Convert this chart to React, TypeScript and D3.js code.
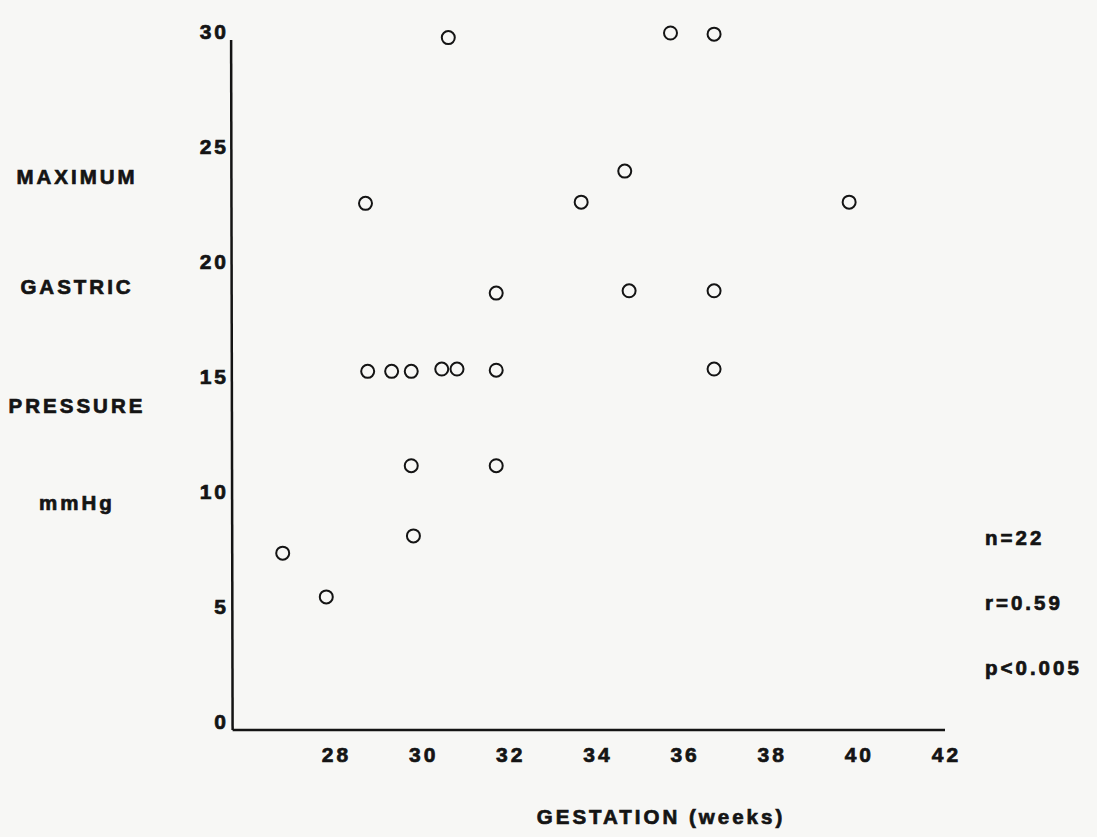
import React from "react";
import * as d3 from "d3";

// values
const gestation = [
  26.8, 27.8, 28.7, 28.75, 29.3, 29.75, 29.75, 29.8, 30.45, 30.8, 30.6,
  31.7, 31.7, 31.7, 33.65, 34.65, 34.75, 35.7, 36.7, 36.7, 36.7, 39.8,
];
const pressure = [
  7.4, 5.5, 22.6, 15.3, 15.3, 15.3, 11.2, 8.15, 15.4, 15.4, 29.8,
  18.7, 15.35, 11.2, 22.65, 24.0, 18.8, 30.0, 29.95, 18.8, 15.4, 22.65,
];
const xTicks = [28, 30, 32, 34, 36, 38, 40, 42];
const yTicks = [0, 5, 10, 15, 20, 25, 30];
const yTitle = ["MAXIMUM", "GASTRIC", "PRESSURE", "mmHg"];
const stats = ["n=22", "r=0.59", "p<0.005"];

const W = 1097;
const H = 837;
const font = "'Liberation Sans', Arial, Helvetica, sans-serif";
const ink = "#141414";

export default function App() {
  // x: weeks -> px, y: mmHg -> px
  const xScale = d3.scaleLinear().domain([28, 42]).range([335, 945]);
  const yScale = d3.scaleLinear().domain([0, 30]).range([723.5, 33]);

  const x0 = xScale(25.65);
  const y0 = yScale(-0.28);
  const yTop = yScale(29.7);

  const points = gestation.map((g, i) => ({ x: xScale(g), y: yScale(pressure[i]) }));

  // heavy type, like the original print
  const textStyle = {
    fontFamily: font,
    fontWeight: "bold",
    fill: ink,
    stroke: ink,
    strokeWidth: 0.7,
  } as const;

  return (
    <svg
      width={W}
      height={H}
      style={{ position: "absolute", left: 0, top: 0, display: "block" }}
    >
      <rect width={W} height={H} fill="#f7f7f5" />

      {/* axes */}
      <line x1={x0} y1={y0} x2={xScale(42)} y2={y0} stroke={ink} strokeWidth={2.5} />
      <line x1={x0} y1={y0} x2={x0 - 1.5} y2={yTop} stroke={ink} strokeWidth={2.5} />

      <g style={textStyle} fontSize={21} letterSpacing={3}>
        {xTicks.map((t) => (
          <text key={t} x={xScale(t) + 1.5} y={756} textAnchor="middle" dominantBaseline="middle">
            {t}
          </text>
        ))}
        {yTicks.map((t) => (
          <text key={t} x={229} y={yScale(t)} textAnchor="end" dominantBaseline="middle">
            {t}
          </text>
        ))}
      </g>

      {/* left title, stacked words */}
      <g style={textStyle} fontSize={20.5} letterSpacing={3}>
        {yTitle.map((w, i) => (
          <text
            key={w}
            x={77}
            y={[179, 289, 408, 505][i]}
            textAnchor="middle"
            dominantBaseline="middle"
          >
            {w}
          </text>
        ))}
        <text x={661} y={819} textAnchor="middle" dominantBaseline="middle">
          GESTATION (weeks)
        </text>
        {stats.map((s, i) => (
          <text key={s} x={985} y={[540, 605, 670][i]} dominantBaseline="middle">
            {s}
          </text>
        ))}
      </g>

      {/* data */}
      {points.map((p, i) => (
        <circle key={i} cx={p.x} cy={p.y} r={6.5} fill="none" stroke={ink} strokeWidth={2} />
      ))}
    </svg>
  );
}
